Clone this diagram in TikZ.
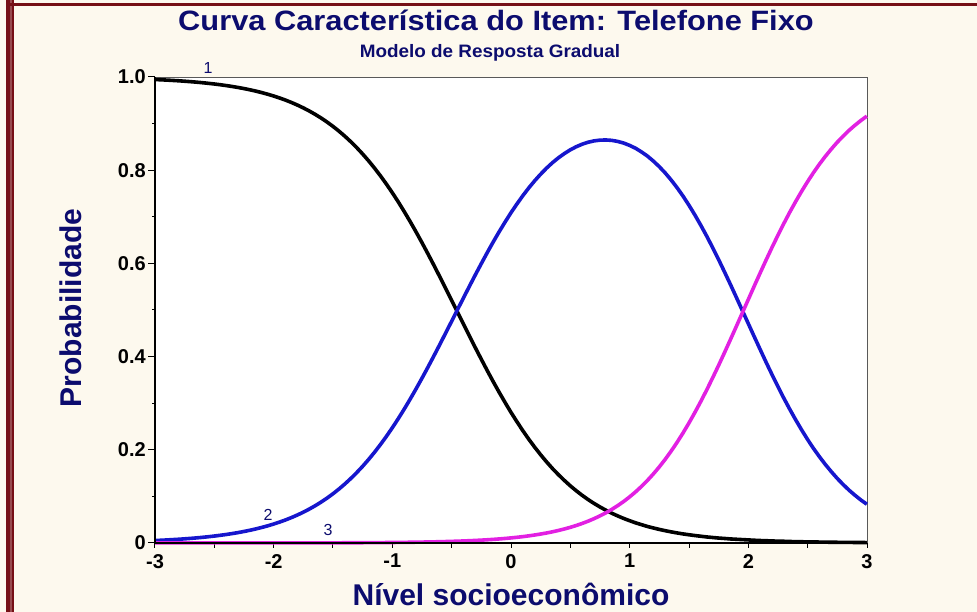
\documentclass[tikz,border=0pt]{standalone}
\usepackage{fontspec}
\setmainfont{Liberation Sans}
\definecolor{paper}{RGB}{253,249,238}
\definecolor{maroon}{RGB}{118,16,22}
\definecolor{navytext}{RGB}{12,12,110}
\definecolor{curveblue}{RGB}{22,22,205}
\definecolor{curvepink}{RGB}{226,32,226}

\begin{document}
\begin{tikzpicture}[x=1pt,y=1pt,
  ttl/.style={font=\fontsize{28}{30}\selectfont\bfseries,text=navytext,inner sep=0pt,xscale=1.1},
  subttl/.style={font=\fontsize{18}{20}\selectfont\bfseries,text=navytext,inner sep=0pt,xscale=1.05},
  axlbl/.style={font=\fontsize{30}{32}\selectfont\bfseries,text=navytext,inner sep=0pt},
  ticklbl/.style={font=\fontsize{20}{22}\selectfont\bfseries,inner sep=0pt},
  crvlbl/.style={font=\fontsize{16}{18}\selectfont,text=navytext,inner sep=0pt},
  crv/.style={line width=3.6pt,line join=round},
  declare function={lgt(\z)=1/(1+exp(-min(max(\z,-9),9)));
    pa(\t)=lgt(2.05*(\t+0.46));pb(\t)=lgt(2.3*(\t-1.96));}]
\useasboundingbox (0,0) rectangle (977,612);
% page
\fill[paper] (0,0) rectangle (977,612);
\fill[maroon] (6,0) rectangle (14,612);
\fill[maroon!75!white] (10,0) rectangle (11.5,612);
\fill[maroon] (6,606) rectangle (977,608.5);
% titles
\node[ttl,anchor=base] (title) at (496,581) {Curva Característica do Item: Telefone Fixo};
\node[subttl,anchor=base] (subtitle) at (490,554) {Modelo de Resposta Gradual};
\node[axlbl,rotate=90] (ylabel) at (71,304) {Probabilidade};
\node[axlbl,anchor=base] (xlabel) at (511,6) {Nível socioeconômico};

\begin{scope}[shift={(511pt,69pt)},x=118.67pt,y=466pt]
\fill[white] (-3,0) rectangle (3,1);
\draw[black!65,line width=0.8pt] (-3,1) -- (3,1) -- (3,0);
% ticks
\foreach \k in {-6,...,6}
  \draw[line width=1pt] (\k/2,0) -- ++(0,-5pt);
\foreach \k in {0,...,10}
  \draw[line width=1pt] (-3,\k/10) -- ++(-3pt,0);
\foreach \k in {0,2,...,10}
  \draw[line width=1pt] (-3,\k/10) -- ++(-7pt,0);
\foreach \t in {-3,...,3}
  \node[ticklbl,anchor=north] (xt\t) at ([yshift=-11pt]\t,0) {\t};
\foreach \p/\l in {0/0,0.2/0.2,0.4/0.4,0.6/0.6,0.8/0.8,1/1.0}
  \node[ticklbl,anchor=east] (yt\l) at ([xshift=-9pt]-3,\p) {\l};
% curves
\draw[crv,black] plot[domain=-3:3,samples=121] (\x,{1-pa(\x)});
\draw[crv,curveblue] plot[domain=-3:3,samples=121] (\x,{pa(\x)-pb(\x)});
\draw[crv,curvepink] plot[domain=-3:3,samples=121] (\x,{pb(\x)});
% axes
\draw[line width=2pt] (-3,1) -- (-3,0) -- (3,0);
\node[crvlbl] (lblone) at (-2.553,1.019) {1};
\node[crvlbl] (lbltwo) at (-2.048,0.060) {2};
\node[crvlbl] (lblthree) at (-1.542,0.028) {3};
\end{scope}
\end{tikzpicture}
\end{document}
